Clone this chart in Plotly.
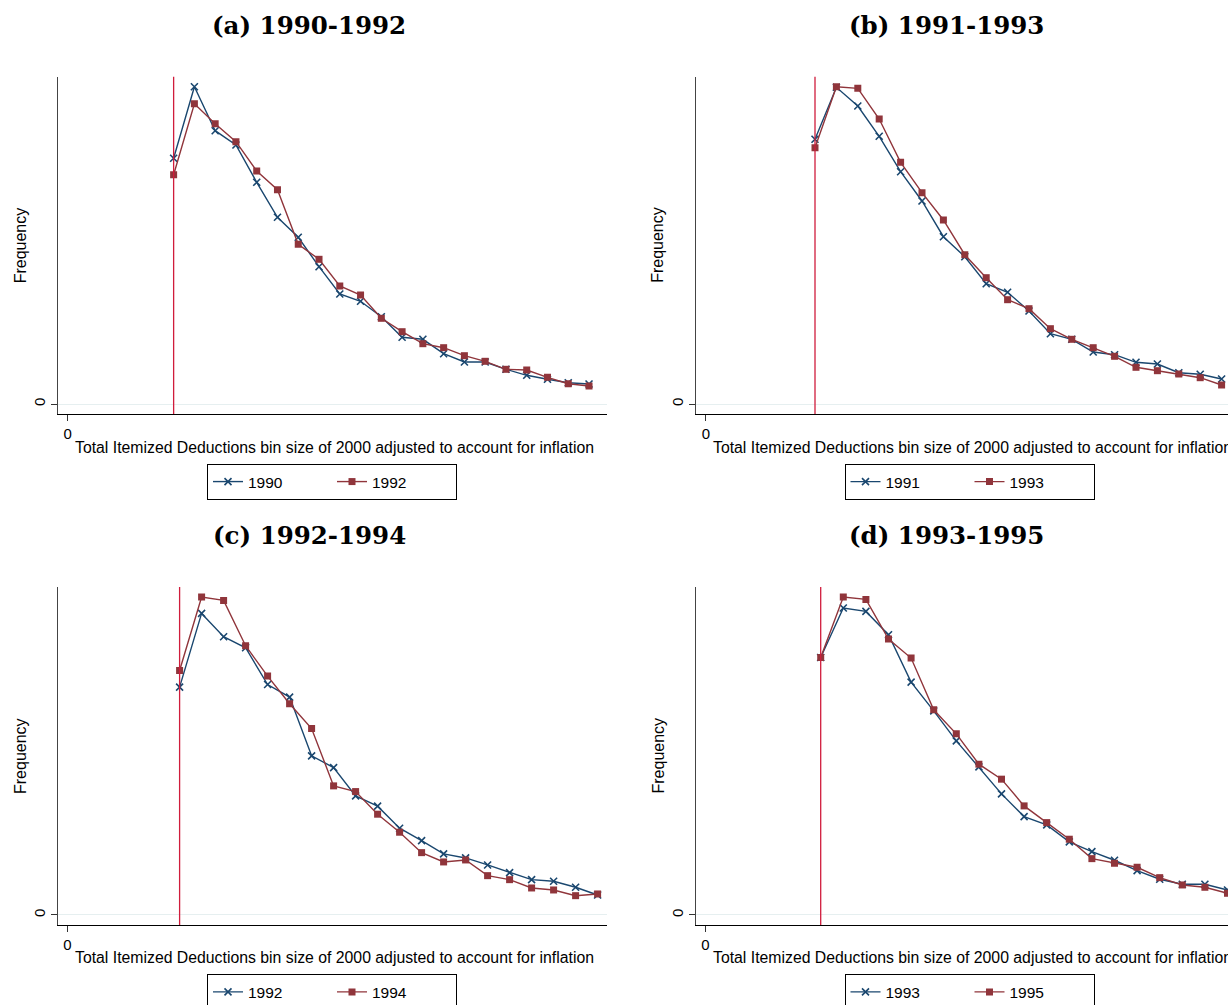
import plotly.graph_objects as go

# ---------------- data ----------------
bins = [10200, 12200, 14200, 16200, 18200, 20200, 22200, 24200, 26200, 28200, 30200,
        32200, 34200, 36200, 38200, 40200, 42200, 44200, 46200, 48200, 50200]

freq_1990_a = [2457, 3173, 2733, 2590, 2217, 1867, 1667, 1373, 1100, 1027, 873,
               667, 647, 503, 420, 420, 347, 287, 247, 213, 200]
freq_1992_a = [2293, 3003, 2803, 2623, 2330, 2143, 1597, 1447, 1180, 1090, 857,
               723, 603, 563, 483, 427, 347, 340, 267, 203, 180]

freq_1991_b = [2647, 3167, 2980, 2677, 2323, 2030, 1673, 1473, 1203, 1117, 930,
               703, 647, 520, 493, 417, 400, 313, 297, 250]
freq_1993_b = [2563, 3173, 3157, 2850, 2417, 2113, 1840, 1493, 1263, 1043, 953,
               753, 647, 563, 477, 367, 333, 300, 263, 190]

freq_1992_c = [2277, 3013, 2780, 2670, 2303, 2177, 1590, 1473, 1190, 1087, 867,
               743, 610, 570, 500, 423, 353, 337, 277, 200]
freq_1994_c = [2443, 3177, 3143, 2690, 2387, 2110, 1863, 1290, 1233, 1007, 827,
               623, 530, 550, 393, 353, 270, 250, 193, 210]

freq_1993_d = [2573, 3067, 3033, 2800, 2327, 2040, 1740, 1480, 1210, 983, 900,
               730, 633, 547, 443, 357, 307, 307, 250]
freq_1995_d = [2573, 3177, 3153, 2757, 2567, 2050, 1810, 1507, 1357, 1090, 923,
               757, 563, 517, 477, 373, 300, 277, 217]

titles = ["(a) 1990-1992", "(b) 1991-1993", "(c) 1992-1994", "(d) 1993-1995"]
series_names = [("1990", "1992"), ("1991", "1993"), ("1992", "1994"), ("1993", "1995")]
threshold = 10200
x_title = "Total Itemized Deductions bin size of 2000 adjusted to account for inflation"
y_title = "Frequency"

# ---------------- styling / layout ----------------
W, H = 1228, 1005
BLUE = "#1a476f"
RED = "#90353b"
VLINE = "#d01c3c"
SANS = "Liberation Sans, Arial, sans-serif"
SERIF = "DejaVu Serif, serif"


def fx(p):
    return p / W


def fy(p):
    return 1 - p / H


# pixel geometry of each panel: left/right of plot area, top/bottom, zero px, px-per-unit
panels = [
    dict(blue=freq_1990_a, red=freq_1992_a, left=57.7, right=606.7, top=76.7, bottom=414,
         zero_px=67.7, k=20.77 / 2000, dx=0),
    dict(blue=freq_1991_b, red=freq_1993_b, left=695.6, right=1228, top=76.7, bottom=414,
         zero_px=705.86, k=21.4 / 2000, dx=637.5),
    dict(blue=freq_1992_c, red=freq_1994_c, left=57.7, right=607, top=587, bottom=925,
         zero_px=67.4, k=22.0 / 2000, dx=0),
    dict(blue=freq_1993_d, red=freq_1995_d, left=695.6, right=1228, top=587, bottom=925,
         zero_px=705.44, k=22.6 / 2000, dx=637.5),
]

fig = go.Figure()
layout = {}
shapes = []
annotations = []

for i, p in enumerate(panels, start=1):
    xa = "x" if i == 1 else f"x{i}"
    ya = "y" if i == 1 else f"y{i}"
    leg = "legend" if i == 1 else f"legend{i}"
    xs = bins[:len(p["blue"])]
    n_blue, n_red = series_names[i - 1]

    fig.add_trace(go.Scatter(
        x=xs, y=p["blue"], mode="lines+markers", name=n_blue,
        xaxis=xa, yaxis=ya, legend=leg,
        line=dict(color=BLUE, width=1.4),
        marker=dict(symbol="x-thin", size=7, color=BLUE, line=dict(color=BLUE, width=1.6)),
    ))
    fig.add_trace(go.Scatter(
        x=xs, y=p["red"], mode="lines+markers", name=n_red,
        xaxis=xa, yaxis=ya, legend=leg,
        line=dict(color=RED, width=1.4),
        marker=dict(symbol="square", size=7, color=RED),
    ))

    ymax = max(max(p["blue"]), max(p["red"]))
    row_off = p["top"] - 76.7

    layout[f"xaxis{'' if i == 1 else i}"] = dict(
        domain=[fx(p["left"]), fx(p["right"])],
        range=[(p["left"] - p["zero_px"]) / p["k"], (p["right"] - p["zero_px"]) / p["k"]],
        anchor=ya, tickvals=[0], ticktext=["0"], ticks="outside", ticklen=6,
        tickcolor="#333", tickwidth=1,
        showline=True, linecolor="black", linewidth=1.3,
        showgrid=False, zeroline=False,
        tickfont=dict(family=SANS, size=15, color="black"),
    )
    layout[f"yaxis{'' if i == 1 else i}"] = dict(
        domain=[fy(p["bottom"]), fy(p["top"])],
        range=[-100, ymax + 100],
        anchor=xa, tickvals=[0], ticktext=["0"], ticks="outside", ticklen=6,
        tickcolor="#333", tickwidth=1, tickangle=-90,
        showline=True, linecolor="#444", linewidth=1,
        showgrid=True, gridcolor="#e6eff0", gridwidth=1.2, zeroline=False,
        tickfont=dict(family=SANS, size=15, color="black"),
    )

    shapes.append(dict(
        type="line", xref=xa, yref=f"{ya} domain", x0=threshold, x1=threshold, y0=0, y1=1,
        line=dict(color=VLINE, width=1.3), layer="above",
    ))

    # panel title
    annotations.append(dict(
        text=titles[i - 1], xref="paper", yref="paper",
        x=fx(309 + p["dx"]), y=fy(25.5 + row_off), xanchor="center", yanchor="middle",
        showarrow=False, font=dict(family=SERIF, size=24.5, color="black", weight="bold"),
    ))
    # y-axis title
    annotations.append(dict(
        text=y_title, xref="paper", yref="paper", textangle=-90,
        x=fx(20 + p["dx"]), y=fy((p["top"] + p["bottom"]) / 2), xanchor="center", yanchor="middle",
        showarrow=False, font=dict(family=SANS, size=16, color="black"),
    ))
    # x-axis title
    annotations.append(dict(
        text=x_title, xref="paper", yref="paper",
        x=fx(73 + p["dx"]), y=fy(447 + row_off), xanchor="left", yanchor="middle",
        showarrow=False, font=dict(family=SANS, size=15.8, color="black"),
    ))

    layout[leg] = dict(
        x=fx(332 + p["dx"]), y=fy(464 + row_off), xanchor="center", yanchor="top",
        orientation="h", bordercolor="black", borderwidth=1, bgcolor="white",
        font=dict(family=SANS, size=15.5, color="black"),
        entrywidth=79, entrywidthmode="pixels",
    )

fig.update_layout(
    width=W, height=H,
    margin=dict(l=0, r=0, t=0, b=0, autoexpand=False),
    paper_bgcolor="white", plot_bgcolor="white",
    showlegend=True,
    shapes=shapes, annotations=annotations,
    **layout,
)

fig.write_html("out.html", config={"displayModeBar": False},
               post_script="document.body.style.margin='0px';document.body.style.overflow='hidden';")
